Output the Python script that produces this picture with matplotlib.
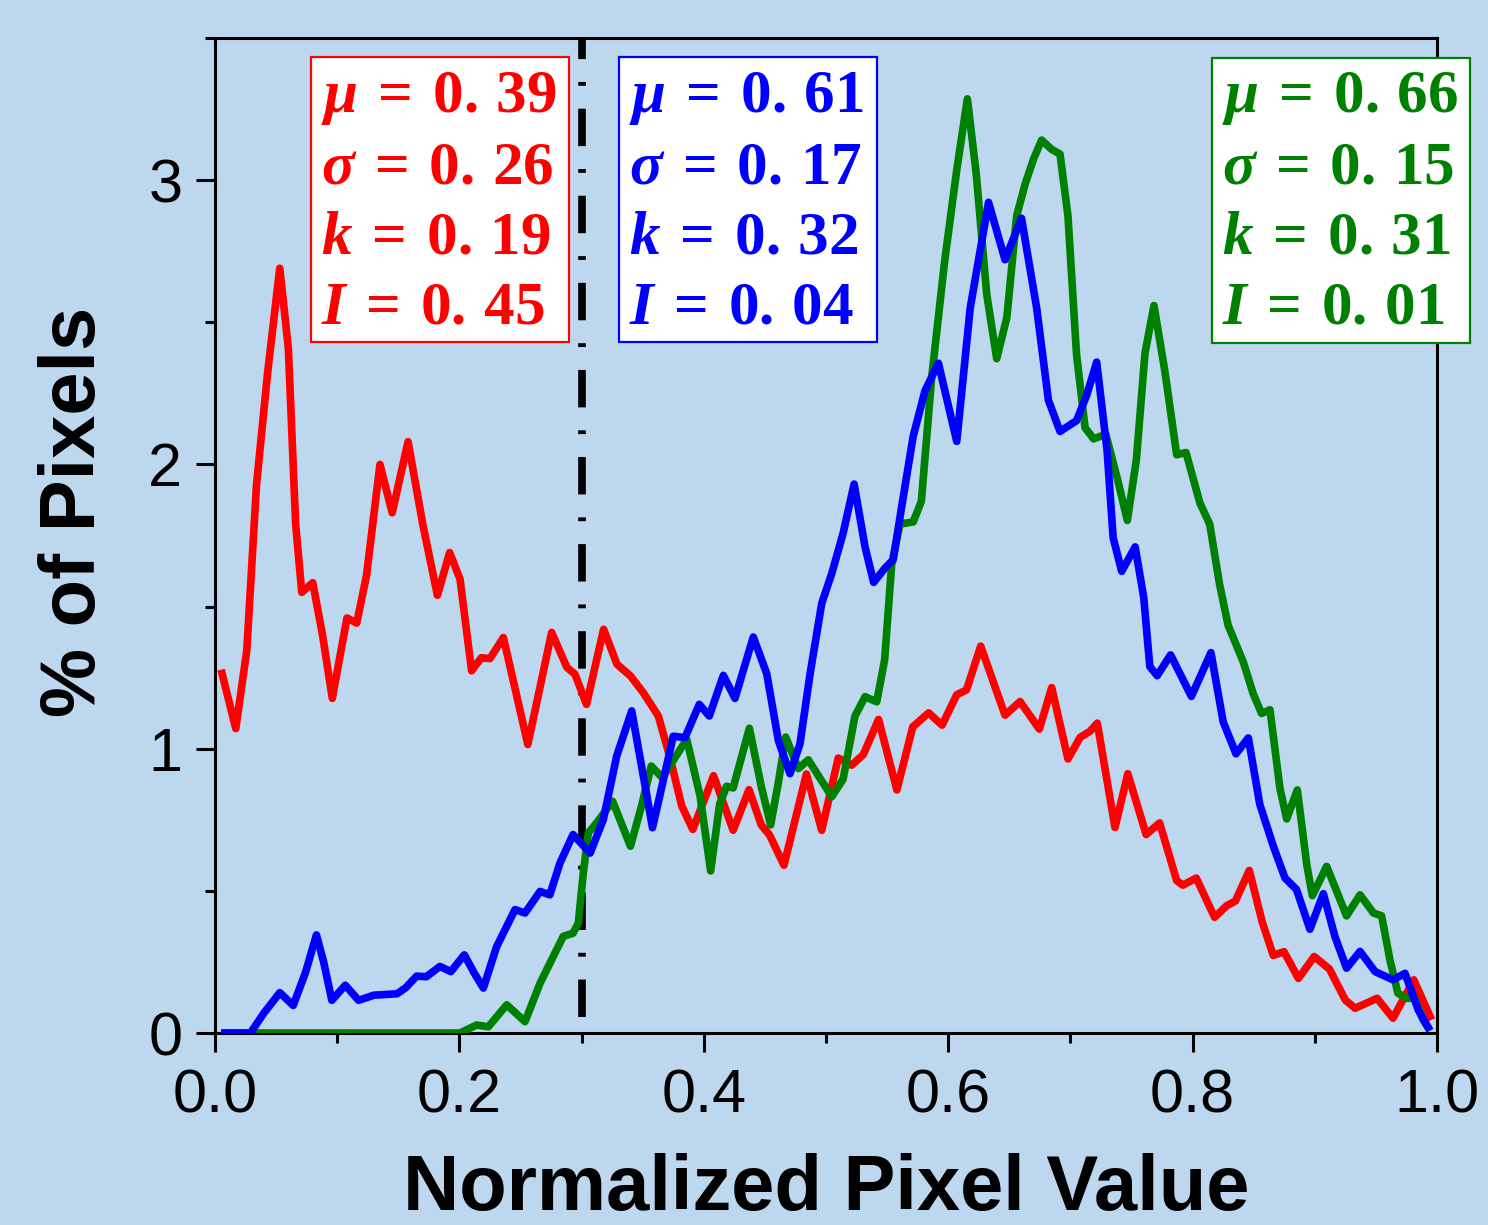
import matplotlib
matplotlib.use('Agg')
import matplotlib.pyplot as plt
from matplotlib.patches import Rectangle
from matplotlib.ticker import MultipleLocator

# pixel-value histograms for the three regions
red_x = [0.005, 0.017, 0.026, 0.034, 0.043, 0.053, 0.060, 0.066, 0.071, 0.080, 0.088, 0.096,
         0.108, 0.116, 0.124, 0.135, 0.145, 0.158, 0.170, 0.182, 0.192, 0.2005, 0.210, 0.218,
         0.225, 0.236, 0.256, 0.2755, 0.288, 0.2946, 0.304, 0.318, 0.329, 0.340, 0.3505, 0.3628,
         0.372, 0.382, 0.391, 0.408, 0.424, 0.437, 0.447, 0.454, 0.4656, 0.484, 0.4965, 0.510,
         0.521, 0.5305, 0.543, 0.558, 0.571, 0.584, 0.595, 0.607, 0.615, 0.6266, 0.6465, 0.6588,
         0.6746, 0.6847, 0.698, 0.708, 0.716, 0.722, 0.7365, 0.747, 0.762, 0.773, 0.787, 0.792,
         0.803, 0.818, 0.828, 0.835, 0.8464, 0.857, 0.866, 0.8748, 0.8866, 0.8995, 0.912, 0.925,
         0.933, 0.951, 0.964, 0.981, 0.9956]
red_y = [1.278, 1.071, 1.345, 1.93, 2.32, 2.69, 2.41, 1.79, 1.55, 1.584, 1.40, 1.177,
         1.46, 1.442, 1.61, 2.0, 1.83, 2.08, 1.79, 1.54, 1.69, 1.597, 1.274, 1.32,
         1.317, 1.391, 1.015, 1.409, 1.286, 1.262, 1.156, 1.42, 1.297, 1.256, 1.197, 1.115,
         0.974, 0.798, 0.716, 0.905, 0.713, 0.856, 0.732, 0.695, 0.590, 0.911, 0.713, 0.967,
         0.942, 0.979, 1.103, 0.855, 1.077, 1.126, 1.083, 1.190, 1.207, 1.361, 1.118, 1.166,
         1.069, 1.215, 0.964, 1.04, 1.061, 1.09, 0.723, 0.912, 0.698, 0.739, 0.536, 0.520,
         0.545, 0.407, 0.448, 0.464, 0.572, 0.39, 0.273, 0.286, 0.192, 0.269, 0.225, 0.116,
         0.087, 0.122, 0.052, 0.187, 0.046]

blue_x = [0.005, 0.029, 0.040, 0.053, 0.064, 0.074, 0.083, 0.089, 0.0956, 0.1066, 0.1175, 0.130,
          0.149, 0.156, 0.165, 0.173, 0.184, 0.193, 0.204, 0.212, 0.2196, 0.2305, 0.2455, 0.2537,
          0.266, 0.274, 0.2823, 0.293, 0.307, 0.3178, 0.3287, 0.341, 0.352, 0.358, 0.367, 0.375,
          0.3846, 0.3963, 0.4045, 0.416, 0.4255, 0.4405, 0.4515, 0.461, 0.4705, 0.4787, 0.487,
          0.4965, 0.5047, 0.514, 0.523, 0.532, 0.539, 0.548, 0.555, 0.563, 0.5714, 0.581, 0.592,
          0.607, 0.618, 0.633, 0.6465, 0.660, 0.6724, 0.682, 0.6915, 0.705, 0.7133, 0.7215, 0.730,
          0.735, 0.742, 0.753, 0.760, 0.765, 0.771, 0.782, 0.799, 0.815, 0.825, 0.8355, 0.8456,
          0.855, 0.866, 0.8756, 0.885, 0.896, 0.907, 0.9165, 0.926, 0.937, 0.9493, 0.964, 0.9738,
          0.9847, 0.9943]
blue_y = [0.0, 0.0, 0.07, 0.142, 0.097, 0.212, 0.345, 0.248, 0.115, 0.168, 0.115, 0.133,
          0.138, 0.159, 0.2, 0.198, 0.234, 0.216, 0.275, 0.212, 0.158, 0.304, 0.434, 0.422,
          0.498, 0.486, 0.598, 0.698, 0.633, 0.751, 0.974, 1.133, 0.868, 0.722, 0.892, 1.044,
          1.039, 1.156, 1.115, 1.258, 1.177, 1.393, 1.264, 1.029, 0.912, 1.017, 1.264,
          1.511, 1.616, 1.758, 1.931, 1.709, 1.585, 1.634, 1.665, 1.88, 2.10, 2.259, 2.356,
          2.081, 2.55, 2.922, 2.72, 2.866, 2.55, 2.226, 2.116, 2.154, 2.243, 2.36, 2.05,
          1.742, 1.624, 1.71, 1.532, 1.289, 1.257, 1.33, 1.184, 1.338, 1.095, 0.982, 1.038,
          0.804, 0.658, 0.545, 0.505, 0.365, 0.49, 0.339, 0.228, 0.287, 0.216, 0.187, 0.210,
          0.081, 0.008]

green_x = [0.005, 0.2005, 0.214, 0.2237, 0.2387, 0.2537, 0.266, 0.2768, 0.285, 0.293, 0.2973,
           0.3014, 0.3055, 0.3123, 0.3254, 0.340, 0.349, 0.357, 0.366, 0.386, 0.397, 0.4056,
           0.413, 0.4187, 0.424, 0.4373, 0.447, 0.4547, 0.461, 0.467, 0.4774, 0.4855, 0.5047,
           0.514, 0.5237, 0.532, 0.5415, 0.548, 0.5537, 0.5605, 0.5714, 0.578, 0.5865, 0.597,
           0.607, 0.6157, 0.623, 0.6315, 0.6397, 0.648, 0.656, 0.663, 0.670, 0.6765, 0.6847,
           0.6915, 0.698, 0.705, 0.712, 0.719, 0.729, 0.739, 0.7466, 0.754, 0.761, 0.7684,
           0.7774, 0.787, 0.7946, 0.806, 0.814, 0.822, 0.829, 0.8415, 0.8497, 0.8565, 0.8633,
           0.8715, 0.877, 0.8857, 0.8935, 0.898, 0.9097, 0.926, 0.937, 0.948, 0.9547, 0.9615,
           0.968, 0.975, 0.9817, 0.9886, 0.994]
green_y = [0.0, 0.0, 0.028, 0.022, 0.099, 0.04, 0.175, 0.269, 0.34, 0.351, 0.387,
           0.563, 0.704, 0.739, 0.815, 0.657, 0.798, 0.939, 0.898, 1.033, 0.833, 0.570,
           0.806, 0.868, 0.862, 1.072, 0.868, 0.732, 0.881, 1.041, 0.930, 0.961, 0.831,
           0.893, 1.115, 1.183, 1.165, 1.313, 1.647, 1.79, 1.798, 1.87, 2.307, 2.712,
           3.036, 3.286, 3.02, 2.599, 2.372, 2.517, 2.874, 2.987, 3.076, 3.141, 3.108,
           3.092, 2.874, 2.388, 2.129, 2.09, 2.106, 1.94, 1.803, 2.017, 2.39, 2.559,
           2.325, 2.034, 2.042, 1.864, 1.79, 1.58, 1.435, 1.305, 1.192, 1.124, 1.137,
           0.86, 0.753, 0.855, 0.59, 0.483, 0.586, 0.412, 0.486, 0.422, 0.412, 0.257,
           0.14, 0.122, 0.122, 0.046, 0.01]

threshold = 0.3

# summary statistics per region
stat_names = [r'\mu', r'\sigma', 'k', 'I']
red_stats = ['0.39', '0.26', '0.19', '0.45']
blue_stats = ['0.61', '0.17', '0.32', '0.04']
green_stats = ['0.66', '0.15', '0.31', '0.01']

RED = '#FF0000'
BLUE = '#0000FF'
GREEN = '#008000'
BG = '#BDD7EE'

plt.rcParams['font.family'] = ['Liberation Sans', 'DejaVu Sans']
plt.rcParams['mathtext.fontset'] = 'custom'
plt.rcParams['mathtext.rm'] = 'Liberation Serif:bold'
plt.rcParams['mathtext.it'] = 'Liberation Serif:italic:bold'
plt.rcParams['mathtext.bf'] = 'Liberation Serif:bold'

W, H = 1488, 1225
fig = plt.figure(figsize=(W / 100, H / 100), dpi=100, facecolor=BG)
ax = fig.add_axes([215 / W, 1 - 1033 / H, (1437 - 215) / W, (1033 - 38) / H])
ax.set_facecolor(BG)

lw = 5.5
ax.plot(red_x, red_y, color=RED, lw=lw, solid_joinstyle='round', solid_capstyle='butt', zorder=3)
ax.plot(green_x, green_y, color=GREEN, lw=lw, solid_joinstyle='round', solid_capstyle='butt', zorder=4)
ax.plot(blue_x, blue_y, color=BLUE, lw=lw, solid_joinstyle='round', solid_capstyle='butt', zorder=5)

ax.axvline(threshold, color='black', lw=5.5, linestyle=(9.3, (4.9, 3.0, 0.5, 3.0)),
           dash_capstyle='butt', zorder=2)

ax.set_xlim(0, 1.0)
ax.set_ylim(0, 3.5)
ax.xaxis.set_major_locator(MultipleLocator(0.2))
ax.xaxis.set_minor_locator(MultipleLocator(0.1))
ax.yaxis.set_major_locator(MultipleLocator(1))
ax.yaxis.set_minor_locator(MultipleLocator(0.5))
ax.set_xticks([0.0, 0.2, 0.4, 0.6, 0.8, 1.0])
ax.set_xticklabels(['0.0', '0.2', '0.4', '0.6', '0.8', '1.0'])
ax.set_yticks([0, 1, 2, 3])
ax.set_yticklabels(['0', '1', '2', '3'])

for s in ax.spines.values():
    s.set_linewidth(2.2)
ax.tick_params(which='both', direction='out', top=False, right=False, width=2.2)
ax.tick_params(which='major', length=13.5, labelsize=44)
ax.tick_params(which='minor', length=7)
ax.tick_params(axis='x', which='major', pad=12)
ax.tick_params(axis='y', which='major', pad=10)

fig.text(826 / W, 1 - 1210 / H, 'Normalized Pixel Value', fontsize=56, fontweight='bold',
         ha='center', va='baseline')
fig.text(75 / W, 1 - 512 / H, '% of Pixels', fontsize=56, fontweight='bold',
         rotation=90, ha='center', va='center')


def stat_box(x0, y0, x1, y1, values, color):
    rect = Rectangle((x0 / W, 1 - y1 / H), (x1 - x0) / W, (y1 - y0) / H,
                     transform=fig.transFigure, facecolor='white', edgecolor=color,
                     lw=1.6, zorder=6)
    fig.patches.append(rect)
    baselines = [112, 183, 253, 323]
    for name, val, yb in zip(stat_names, values, baselines):
        a, b = val.split('.')
        fig.text((x0 + 10) / W, 1 - yb / H, r'$%s\:=\:%s.\,%s$' % (name, a, b),
                 color=color, fontsize=44, ha='left', va='baseline', zorder=7)


stat_box(311, 57, 569, 342, red_stats, RED)
stat_box(619, 57, 877, 342, blue_stats, BLUE)
stat_box(1212, 58, 1470, 343, green_stats, GREEN)

fig.savefig('out.png', dpi=100, facecolor=BG)
